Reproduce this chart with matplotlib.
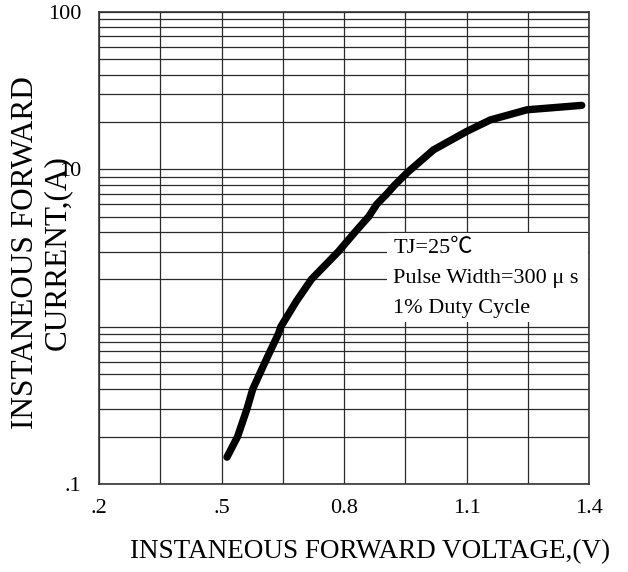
import matplotlib
matplotlib.use("Agg")
import matplotlib.pyplot as plt
from matplotlib.patches import Rectangle
from matplotlib.ticker import FixedLocator, LogLocator, NullFormatter

# Curve (V, A)
voltage = [0.513, 0.539, 0.562, 0.576, 0.593, 0.607, 0.619, 0.639, 0.645,
           0.683, 0.720, 0.786, 0.827, 0.860, 0.880, 0.905, 0.925, 0.956,
           1.019, 1.100, 1.158, 1.248, 1.382]
current = [0.148, 0.20, 0.30, 0.40, 0.50, 0.60, 0.70, 0.90, 1.0,
           1.45, 2.0, 3.0, 4.0, 5.0, 6.0, 7.0, 8.0, 9.6,
           13.3, 17.4, 20.6, 23.9, 25.5]

x_major = [0.2, 0.5, 0.8, 1.1, 1.4]
x_major_labels = [".2", ".5", "0.8", "1.1", "1.4"]
x_minor = [0.35, 0.65, 0.95, 1.25]
y_major = [0.1, 1, 10, 100]
y_major_labels = [".1", "", "10", "100"]

notes = ["TJ=25\u2103", "Pulse Width=300 \u03bc s", "1% Duty Cycle"]

plt.rcParams["font.family"] = ["Liberation Serif", "Noto Sans CJK SC", "DejaVu Sans"]

fig = plt.figure(figsize=(6.28, 5.72), dpi=100)
ax = fig.add_axes([0.158, 0.154, 0.780, 0.825])

ax.plot(voltage, current, color="black", linewidth=5.3,
        solid_capstyle="round", solid_joinstyle="round", zorder=3)

ax.set_yscale("log")
ax.set_xlim(0.2, 1.4)
ax.set_ylim(0.1, 100)

ax.set_xticks(x_major)
ax.set_xticklabels(x_major_labels)
ax.xaxis.set_minor_locator(FixedLocator(x_minor))
ax.set_yticks(y_major)
ax.set_yticklabels(y_major_labels)
ax.yaxis.set_minor_locator(LogLocator(base=10, subs=range(2, 10)))
ax.yaxis.set_minor_formatter(NullFormatter())

ax.tick_params(which="both", length=0, labelsize=16)
ax.tick_params(axis="x", pad=11)
ax.tick_params(axis="y", pad=13)

ax.set_axisbelow(True)
ax.grid(which="both", color="#2a2a2a", linewidth=0.9)
for s in ax.spines.values():
    s.set_color("#333333")
    s.set_linewidth(1.2)

# white box behind the notes
ax.add_patch(Rectangle((0.588, 0.343), 0.409, 0.189, transform=ax.transAxes,
                       facecolor="white", edgecolor="none", zorder=1))
for txt, yy in zip(notes, [0.489, 0.426, 0.362]):
    ax.text(0.600, yy, txt, transform=ax.transAxes, fontsize=16,
            va="baseline", ha="left", zorder=4)

fig.text(0.589, 0.035, "INSTANEOUS FORWARD VOLTAGE,(V)", fontsize=19.5,
         ha="center", va="center")
fig.text(0.040, 0.559, "INSTANEOUS FORWARD", fontsize=22.5, rotation=90,
         ha="center", va="center")
fig.text(0.092, 0.559, "CURRENT,(A)", fontsize=22.5, rotation=90,
         ha="center", va="center")

fig.savefig("out.png", dpi=100)
